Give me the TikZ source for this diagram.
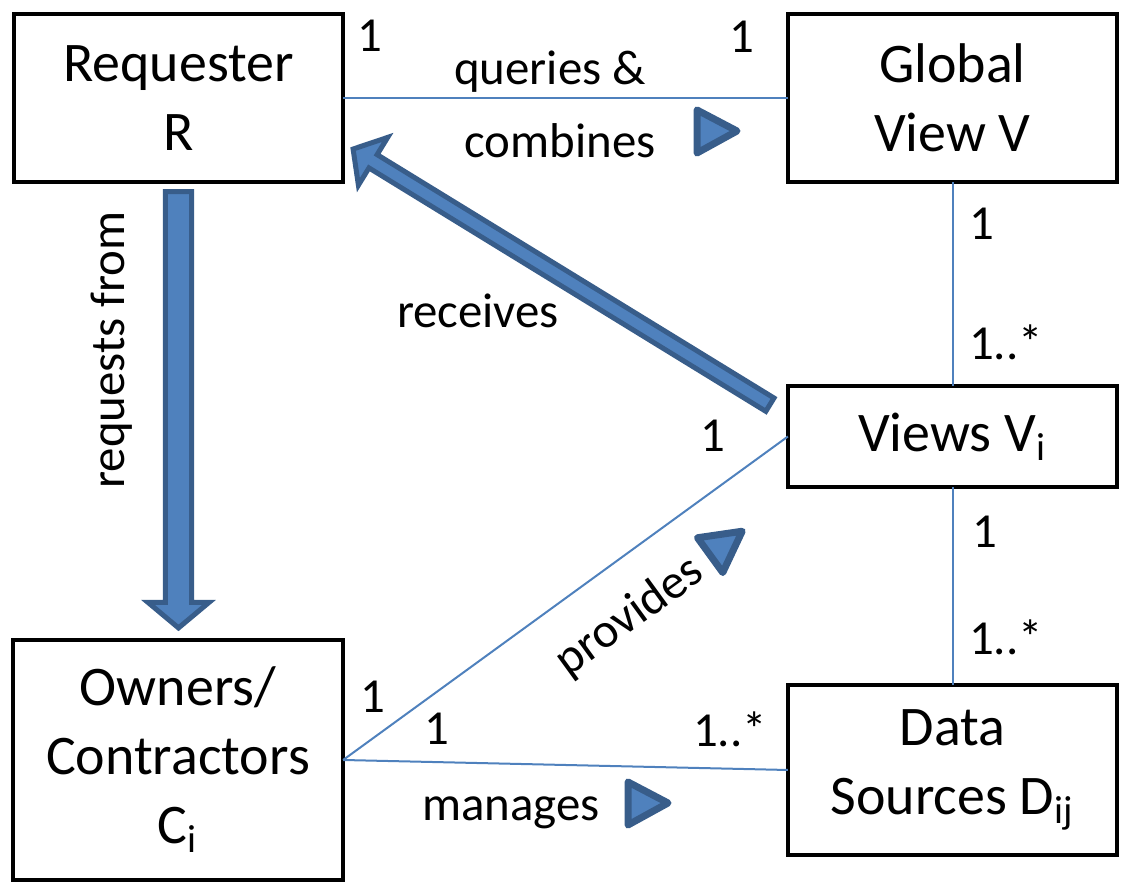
\documentclass[tikz,border=0pt]{standalone}
\usepackage{fontspec}
\setmainfont{Carlito}
\usepackage{tikz}
\usetikzlibrary{calc, positioning}
\definecolor{LinkBlue}{RGB}{79,129,189}
\definecolor{ArrowFill}{RGB}{79,129,189}
\definecolor{ArrowEdge}{RGB}{56,93,138}
\newcommand{\boxfont}{\fontsize{15.9}{19.6}\selectfont}
\newcommand{\lblfont}{\fontsize{13.9}{16.7}\selectfont}
% fat block arrow: tail, tip, shaft half width, head half width, head length
\newcommand{\fatarrow}[5]{%
  \coordinate (fa-h) at ($(#2)!#5!(#1)$);
  \draw[blockarr] ($(#1)!#3!90:(#2)$) -- ($(fa-h)!#3!90:(#2)$)
    -- ($(fa-h)!#4!90:(#2)$) -- (#2) -- ($(fa-h)!#4!-90:(#2)$)
    -- ($(fa-h)!#3!-90:(#2)$) -- ($(#1)!#3!-90:(#2)$) -- cycle;
}
\tikzset{
  entity/.style={
    rectangle, draw=black, line width=0.04cm, fill=white,
    inner sep=0pt, outer sep=0pt, align=center, font=\boxfont
  },
  assoc/.style={draw=LinkBlue, line width=0.02cm},
  mult/.style={font=\lblfont, anchor=base, inner sep=0pt},
  lbl/.style={font=\lblfont, inner sep=0pt},
  blockarr/.style={fill=ArrowFill, draw=ArrowEdge, line width=0.05cm, line join=miter},
  dirtri/.style={fill=ArrowFill, draw=ArrowEdge, line width=0.07cm, line join=round}
}
\begin{document}
\begin{tikzpicture}[x=0.01cm, y=-0.01cm]
  \useasboundingbox (0,0) rectangle (1130,895);

  \node[entity, minimum width=3.29cm, minimum height=1.68cm]
    (req) at (178.5, 98) {Requester\\R};
  \node[entity, minimum width=3.29cm, minimum height=1.68cm]
    (gv) at (952.5, 98) {Global\\View V};
  \node[entity, minimum width=3.29cm, minimum height=1.01cm]
    (vi) at (952.5, 436.5) {Views V\textsubscript{i}};
  \node[entity, minimum width=3.29cm, minimum height=1.70cm]
    (ds) at (952.5, 770) {Data\\Sources D\textsubscript{ij}};
  \node[entity, minimum width=3.30cm, minimum height=2.40cm]
    (oc) at (178, 760) {Owners/\\Contractors\\C\textsubscript{i}};

  \draw[assoc] (req.east) -- (gv.west);
  \draw[assoc] (gv.south) -- (vi.north);
  \draw[assoc] (vi.south) -- (ds.north);
  \draw[assoc] (oc.east) -- (vi.west);
  \draw[assoc] (oc.east) -- (ds.west);

  % requests from / receives
  \coordinate (rqTail) at ($(req.south)+(0,9.5)$);
  \coordinate (rqTip) at ($(req.south |- oc.north)+(0,-12)$);
  \fatarrow{rqTail}{rqTip}{0.13cm}{0.305cm}{0.255cm}
  \coordinate (rcTail) at ($(vi.north west)+(-18,18.7)$);
  \coordinate (rcTip) at ($(req.south east)+(10,-33)$);
  \fatarrow{rcTail}{rcTip}{0.078cm}{0.28cm}{0.234cm}

  % direction marks
  \draw[dirtri] (697,110) -- (737,131) -- (697,153) -- cycle;
  \draw[dirtri] (628,782) -- (668,803) -- (628,825) -- cycle;
  \draw[dirtri, rotate around={36:(726,543)}]
    (706,522) -- (746,543) -- (706,565) -- cycle;

  % multiplicities
  \node[mult] (m1) at (370, 52) {1};
  \node[mult] (m2) at (742, 53) {1};
  \node[mult] (m3) at (982, 240) {1};
  \node[mult] (m4) at (1006, 360) {1..*};
  \node[mult] (m5) at (713, 452) {1};
  \node[mult] (m6) at (985, 548) {1};
  \node[mult] (m7) at (1006, 655) {1..*};
  \node[mult] (m8) at (373, 713) {1};
  \node[mult] (m9) at (437, 745) {1};
  \node[mult] (m10) at (730, 747) {1..*};

  % role labels
  \node[mult] (qry) at (550, 85) {queries \&};
  \node[mult] (cmb) at (560, 158) {combines};
  \node[mult] (rcv) at (478, 328) {receives};
  \node[mult] (mng) at (511, 821) {manages};
  \node[lbl, rotate=36] (prv) at (630, 617) {provides};
  \node[lbl, rotate=90] (rqf) at (112, 350) {requests from};
\end{tikzpicture}
\end{document}
